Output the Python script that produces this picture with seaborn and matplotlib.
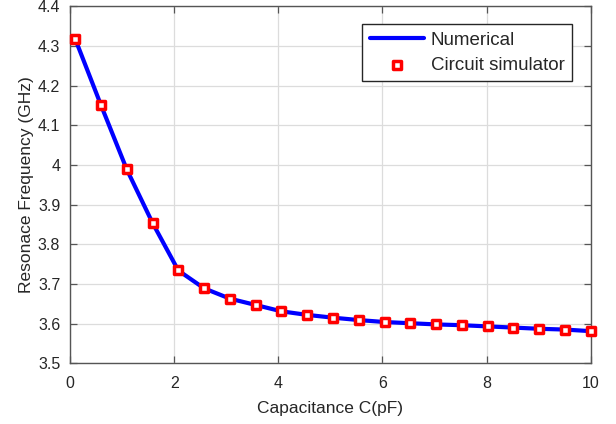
import matplotlib
matplotlib.use("Agg")
import matplotlib.pyplot as plt
import seaborn as sns
import pandas as pd

# Capacitance sweep (pF) and resonance frequency (GHz)
capacitance = [0.1, 0.595, 1.09, 1.585, 2.08, 2.575, 3.07, 3.565, 4.06, 4.555,
               5.05, 5.545, 6.04, 6.535, 7.03, 7.525, 8.02, 8.515, 9.01, 9.505, 10.0]
numerical = [4.318, 4.151, 3.989, 3.854, 3.734, 3.689, 3.663, 3.647, 3.631, 3.622,
             3.615, 3.609, 3.604, 3.601, 3.598, 3.596, 3.593, 3.590, 3.587, 3.585, 3.581]
circuit = [4.318, 4.151, 3.989, 3.854, 3.734, 3.689, 3.663, 3.647, 3.631, 3.622,
           3.615, 3.609, 3.604, 3.601, 3.598, 3.596, 3.593, 3.590, 3.587, 3.585, 3.581]

x_ticks = [0, 2, 4, 6, 8, 10]
y_ticks = [3.5, 3.6, 3.7, 3.8, 3.9, 4.0, 4.1, 4.2, 4.3, 4.4]
y_tick_labels = ["3.5", "3.6", "3.7", "3.8", "3.9", "4", "4.1", "4.2", "4.3", "4.4"]

df = pd.DataFrame({"C": capacitance, "num": numerical, "ckt": circuit})

sns.set_style("white")
plt.rcParams["font.family"] = ["Liberation Sans", "DejaVu Sans"]

fig = plt.figure(figsize=(6.16, 4.24), dpi=100)
ax = fig.add_axes([0.1136, 0.1432, 0.8455, 0.8418])

sns.lineplot(data=df, x="C", y="num", ax=ax, color="#0000ff", linewidth=3.0,
             label="Numerical", zorder=3)
sns.scatterplot(data=df, x="C", y="ckt", ax=ax, marker="s", s=30,
                facecolor="white", edgecolor="#ff0000", linewidth=2.5,
                label="Circuit simulator", zorder=4, clip_on=False)

ax.set_xlim(0, 10)
ax.set_ylim(3.5, 4.4)
ax.set_xticks(x_ticks)
ax.set_xticklabels([str(t) for t in x_ticks])
ax.set_yticks(y_ticks)
ax.set_yticklabels(y_tick_labels)

ax.grid(True, color="#dcdcdc", linewidth=0.9)
ax.set_axisbelow(True)
for side in ["top", "bottom", "left", "right"]:
    ax.spines[side].set_visible(True)
    ax.spines[side].set_color("#555555")
    ax.spines[side].set_linewidth(1.0)

ax.tick_params(direction="in", length=5, width=0.9, colors="#555555",
               labelcolor="#262626", labelsize=11.5, top=True, right=True,
               bottom=True, left=True, pad=7)
ax.tick_params(axis="x", pad=9)

ax.set_xlabel("Capacitance C(pF)", fontsize=12.5, color="#262626", labelpad=7)
ax.set_ylabel("Resonace Frequency (GHz)", fontsize=12.5, color="#262626", labelpad=3)

leg = ax.legend(loc="upper right", bbox_to_anchor=(572 / 616, 1 - 24 / 424),
                bbox_transform=fig.transFigure, fontsize=13.5,
                frameon=True, fancybox=False, framealpha=1, edgecolor="#262626",
                handlelength=2.9, borderpad=0.4, labelspacing=0.42,
                handletextpad=0.35, borderaxespad=0)
leg.get_frame().set_linewidth(1.0)

fig.savefig("out.png", dpi=100)
